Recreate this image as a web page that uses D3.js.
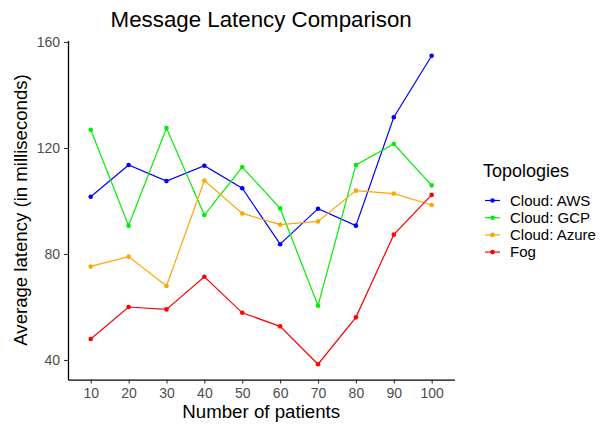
<!DOCTYPE html>
<html><head><meta charset="utf-8">
<script src="https://cdn.jsdelivr.net/npm/d3@7"></script>
<style>body{margin:0;background:#fff}text{font-family:"Liberation Sans",Arial,sans-serif}</style>
</head><body><svg id="c" width="600" height="425"></svg>
<script>
const categories = ["10","20","30","40","50","60","70","80","90","100"];
const aws   = [101.6,113.6,107.5,113.3,104.8,83.7,97.1,90.7,131.6,154.8];
const gcp   = [126.9,90.7,127.5,94.7,112.8,97.2,60.5,113.6,121.5,105.9];
const azure = [75.3,79.0,67.9,107.7,95.3,91.1,92.3,103.9,102.8,98.5];
const fog   = [47.9,60.0,59.1,71.4,57.8,52.7,38.4,56.1,87.3,102.3];
const seriesNames = ["Cloud: AWS","Cloud: GCP","Cloud: Azure","Fog"];
const seriesColors = ["#0000FF","#00EE00","#FFA500","#FF0000"];
const yTicks = [40,80,120,160];
const series = [aws,gcp,azure,fog];

const svg = d3.select("#c");
const pLeft = 68, pRight = 454.4, pTop = 40.4, pBottom = 379.6;
const x = d3.scalePoint().domain(categories).range([pLeft,pRight]).padding(0.6);
const y = d3.scaleLinear().domain([32.6,160.6]).range([pBottom,pTop]);

const gx = svg.append("g").attr("transform",`translate(0,${pBottom})`)
  .call(d3.axisBottom(x).tickSize(4).tickPadding(4).tickSizeOuter(0));
const gy = svg.append("g").attr("transform",`translate(${pLeft},0)`)
  .call(d3.axisLeft(y).tickValues(yTicks).tickSize(4).tickPadding(4).tickSizeOuter(0));
[gx,gy].forEach(g=>{
  g.select(".domain").attr("stroke","#000").attr("stroke-width",1.3);
  g.selectAll(".tick line").attr("stroke","#333").attr("stroke-width",1.1);
  g.selectAll(".tick text").attr("fill","#4d4d4d").style("font-size","14px").style("font-family","Liberation Sans, Arial, sans-serif");
});

const line = d3.line().x((d,i)=>x(categories[i])).y(d=>y(d));
series.forEach((s,k)=>{
  svg.append("path").datum(s).attr("d",line).attr("fill","none")
    .attr("stroke",seriesColors[k]).attr("stroke-width",1.2);
  svg.append("g").selectAll("circle").data(s).join("circle")
    .attr("cx",(d,i)=>x(categories[i])).attr("cy",d=>y(d)).attr("r",2.3)
    .attr("fill",seriesColors[k]);
});

svg.append("text").attr("x",(pLeft+pRight)/2).attr("y",27).attr("text-anchor","middle")
  .style("font-size","22.3px").attr("fill","#000").text("Message Latency Comparison");
svg.append("text").attr("x",(pLeft+pRight)/2).attr("y",418).attr("text-anchor","middle")
  .style("font-size","18.7px").attr("fill","#000").text("Number of patients");
svg.append("text").attr("transform",`translate(27,${(pTop+pBottom)/2}) rotate(-90)`)
  .attr("text-anchor","middle").style("font-size","18.6px").attr("fill","#000")
  .text("Average latency (in milliseconds)");

const lg = svg.append("g");
lg.append("text").attr("x",483).attr("y",177).style("font-size","18px").attr("fill","#000").text("Topologies");
seriesNames.forEach((n,k)=>{
  const cy = 200.5 + k*17.2;
  lg.append("line").attr("x1",485).attr("x2",500).attr("y1",cy).attr("y2",cy)
    .attr("stroke",seriesColors[k]).attr("stroke-width",1.2);
  lg.append("circle").attr("cx",492.5).attr("cy",cy).attr("r",2.3).attr("fill",seriesColors[k]);
  lg.append("text").attr("x",510).attr("y",cy+5.3).style("font-size","15px").attr("fill","#000").text(n);
});
</script></body></html>
